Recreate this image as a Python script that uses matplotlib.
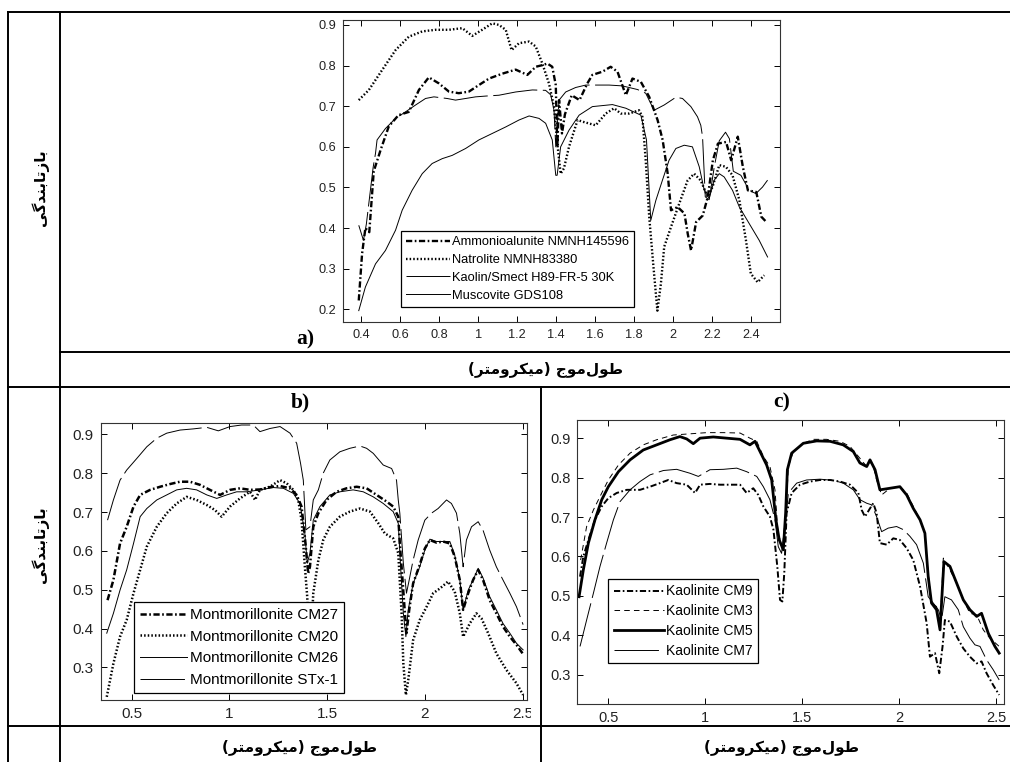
import matplotlib
matplotlib.use("Agg")
import numpy as np
import matplotlib.pyplot as plt
from matplotlib.transforms import Bbox, TransformedBbox

plt.rcParams['lines.scale_dashes'] = False
plt.rcParams['font.family'] = ['Liberation Sans', 'DejaVu Sans']

# ---------------- data ----------------
# panel a
amm_x = [0.386, 0.403, 0.42, 0.44, 0.463, 0.498, 0.54, 0.59, 0.643, 0.695, 0.746, 0.798, 0.849, 0.9, 0.952,
         1.003, 1.055, 1.123, 1.192, 1.252, 1.295, 1.329, 1.355, 1.38, 1.398, 1.406, 1.415, 1.43, 1.445, 1.48,
         1.52, 1.56, 1.586, 1.638, 1.68, 1.715, 1.758, 1.792, 1.835, 1.878, 1.921, 1.947, 1.973, 1.99, 2.024,
         2.059, 2.076, 2.093, 2.119, 2.153, 2.179, 2.205, 2.231, 2.273, 2.299, 2.333, 2.359, 2.385, 2.428,
         2.454, 2.48]
amm_y = [0.222, 0.337, 0.40, 0.39, 0.54, 0.592, 0.65, 0.678, 0.686, 0.74, 0.771, 0.756, 0.736, 0.732, 0.736,
         0.752, 0.768, 0.78, 0.79, 0.777, 0.797, 0.801, 0.805, 0.797, 0.752, 0.60, 0.715, 0.633, 0.68, 0.727,
         0.715, 0.756, 0.777, 0.785, 0.797, 0.785, 0.727, 0.768, 0.76, 0.723, 0.666, 0.617, 0.534, 0.444, 0.452,
         0.436, 0.386, 0.345, 0.415, 0.431, 0.477, 0.567, 0.608, 0.612, 0.567, 0.625, 0.551, 0.493, 0.489,
         0.428, 0.415]

nat_x = [0.386, 0.438, 0.506, 0.575, 0.643, 0.712, 0.78, 0.849, 0.918, 0.969, 1.02, 1.072, 1.106, 1.141,
         1.171, 1.209, 1.261, 1.295, 1.329, 1.363, 1.389, 1.406, 1.423, 1.44, 1.466, 1.51, 1.535, 1.603, 1.655,
         1.698, 1.732, 1.775, 1.826, 1.843, 1.86, 1.878, 1.9, 1.92, 1.938, 1.955, 1.99, 2.032, 2.075, 2.109,
         2.143, 2.178, 2.203, 2.238, 2.272, 2.306, 2.341, 2.375, 2.4, 2.435, 2.469]
nat_y = [0.715, 0.74, 0.789, 0.838, 0.871, 0.884, 0.888, 0.888, 0.892, 0.873, 0.888, 0.904, 0.9, 0.888,
         0.838, 0.855, 0.859, 0.847, 0.805, 0.756, 0.699, 0.608, 0.534, 0.547, 0.6, 0.666, 0.662, 0.653, 0.682,
         0.695, 0.682, 0.682, 0.69, 0.674, 0.567, 0.428, 0.304, 0.197, 0.263, 0.354, 0.403, 0.46, 0.517, 0.534,
         0.517, 0.477, 0.501, 0.555, 0.551, 0.53, 0.469, 0.37, 0.288, 0.267, 0.284]

kao_x = [0.386, 0.41, 0.425, 0.44, 0.46, 0.472, 0.48, 0.523, 0.575, 0.626, 0.678, 0.729, 0.772, 0.84, 0.883,
         0.935, 0.986, 1.04, 1.106, 1.192, 1.278, 1.346, 1.372, 1.389, 1.398, 1.415, 1.449, 1.5, 1.552, 1.672,
         1.74, 1.818, 1.86, 1.903, 1.955, 2.015, 2.049, 2.092, 2.126, 2.143, 2.152, 2.166, 2.186, 2.212, 2.238,
         2.27, 2.29, 2.31, 2.349, 2.392, 2.426, 2.46, 2.486]
kao_y = [0.407, 0.37, 0.41, 0.47, 0.55, 0.584, 0.617, 0.645, 0.67, 0.686, 0.703, 0.719, 0.723, 0.719, 0.715,
         0.719, 0.723, 0.725, 0.727, 0.735, 0.74, 0.739, 0.728, 0.69, 0.60, 0.715, 0.735, 0.746, 0.752, 0.752,
         0.75, 0.741, 0.732, 0.69, 0.703, 0.722, 0.719, 0.699, 0.674, 0.653, 0.625, 0.477, 0.47, 0.55, 0.615,
         0.636, 0.62, 0.54, 0.53, 0.493, 0.485, 0.501, 0.518]

mus_x = [0.386, 0.42, 0.472, 0.523, 0.575, 0.609, 0.66, 0.712, 0.763, 0.815, 0.866, 0.935, 1.003, 1.072,
         1.141, 1.209, 1.261, 1.312, 1.346, 1.38, 1.398, 1.405, 1.423, 1.466, 1.518, 1.586, 1.689, 1.758,
         1.835, 1.864, 1.886, 1.912, 1.946, 1.98, 2.015, 2.058, 2.1, 2.135, 2.161, 2.186, 2.212, 2.238, 2.263,
         2.306, 2.341, 2.392, 2.443, 2.486]
mus_y = [0.197, 0.255, 0.312, 0.345, 0.395, 0.444, 0.493, 0.534, 0.559, 0.571, 0.579, 0.596, 0.617, 0.633,
         0.649, 0.666, 0.676, 0.67, 0.658, 0.617, 0.53, 0.53, 0.6, 0.641, 0.678, 0.699, 0.704, 0.695, 0.678,
         0.617, 0.419, 0.468, 0.518, 0.567, 0.596, 0.604, 0.6, 0.551, 0.493, 0.473, 0.518, 0.534, 0.526, 0.493,
         0.452, 0.411, 0.37, 0.329]

# panel b
cm27_x = [0.376, 0.406, 0.44, 0.474, 0.509, 0.543, 0.594, 0.645, 0.696, 0.747, 0.798, 0.849, 0.9, 0.952,
          1.003, 1.054, 1.105, 1.156, 1.207, 1.259, 1.31, 1.344, 1.369, 1.386, 1.403, 1.412, 1.429, 1.455,
          1.497, 1.548, 1.599, 1.651, 1.702, 1.753, 1.804, 1.838, 1.864, 1.872, 1.881, 1.898, 1.906, 1.92, 1.94,
          1.974, 2.0, 2.026, 2.06, 2.094, 2.128, 2.153, 2.179, 2.196, 2.222, 2.247, 2.273, 2.298, 2.332, 2.366,
          2.4, 2.435, 2.469, 2.503]
cm27_y = [0.473, 0.525, 0.619, 0.662, 0.714, 0.744, 0.757, 0.765, 0.772, 0.778, 0.778, 0.77, 0.757, 0.744,
          0.757, 0.761, 0.757, 0.758, 0.764, 0.767, 0.761, 0.744, 0.714, 0.636, 0.542, 0.559, 0.662, 0.697,
          0.731, 0.752, 0.761, 0.765, 0.761, 0.744, 0.727, 0.714, 0.688, 0.619, 0.559, 0.439, 0.388, 0.448, 0.516,
          0.564, 0.606, 0.628, 0.621, 0.624, 0.619, 0.585, 0.525, 0.448, 0.491, 0.525, 0.551, 0.525, 0.473, 0.439,
          0.405, 0.379, 0.358, 0.334]

cm20_x = [0.372, 0.406, 0.44, 0.474, 0.509, 0.543, 0.577, 0.628, 0.679, 0.73, 0.781, 0.832, 0.884, 0.926,
          0.96, 1.003, 1.054, 1.105, 1.131, 1.156, 1.207, 1.259, 1.293, 1.327, 1.352, 1.369, 1.386, 1.398, 1.41,
          1.42, 1.429, 1.455, 1.48, 1.514, 1.565, 1.616, 1.668, 1.719, 1.762, 1.795, 1.838, 1.864, 1.881, 1.89,
          1.903, 1.915, 1.94, 1.974, 2.009, 2.043, 2.077, 2.119, 2.153, 2.179, 2.196, 2.23, 2.264, 2.29, 2.324,
          2.366, 2.418, 2.469, 2.503]
cm20_y = [0.224, 0.31, 0.379, 0.422, 0.491, 0.551, 0.611, 0.662, 0.697, 0.722, 0.739, 0.731, 0.718, 0.705,
          0.688, 0.714, 0.735, 0.752, 0.731, 0.757, 0.765, 0.782, 0.774, 0.757, 0.731, 0.679, 0.559, 0.482, 0.33,
          0.40, 0.491, 0.576, 0.628, 0.662, 0.688, 0.701, 0.709, 0.701, 0.671, 0.645, 0.632, 0.594, 0.439, 0.31,
          0.229, 0.267, 0.37, 0.422, 0.456, 0.491, 0.503, 0.521, 0.495, 0.439, 0.379, 0.413, 0.439, 0.426, 0.388,
          0.336, 0.293, 0.259, 0.229]

cm26_x = [0.372, 0.406, 0.44, 0.474, 0.509, 0.543, 0.577, 0.628, 0.679, 0.73, 0.781, 0.832, 0.884, 0.935,
          0.986, 1.037, 1.088, 1.156, 1.224, 1.276, 1.327, 1.361, 1.386, 1.398, 1.412, 1.429, 1.463, 1.514,
          1.565, 1.633, 1.685, 1.736, 1.787, 1.838, 1.864, 1.876, 1.89, 1.903, 1.915, 1.94, 1.974, 2.0, 2.026,
          2.06, 2.094, 2.128, 2.153, 2.179, 2.196, 2.222, 2.247, 2.273, 2.298, 2.332, 2.366, 2.4, 2.435, 2.469,
          2.503]
cm26_y = [0.388, 0.439, 0.499, 0.551, 0.619, 0.688, 0.709, 0.731, 0.744, 0.757, 0.761, 0.757, 0.744, 0.735,
          0.744, 0.752, 0.752, 0.757, 0.763, 0.761, 0.748, 0.722, 0.644, 0.568, 0.594, 0.679, 0.714, 0.744,
          0.752, 0.757, 0.752, 0.739, 0.722, 0.701, 0.671, 0.559, 0.439, 0.379, 0.448, 0.516, 0.559, 0.602, 0.63,
          0.624, 0.624, 0.624, 0.589, 0.525, 0.448, 0.499, 0.525, 0.555, 0.53, 0.482, 0.448, 0.413, 0.388, 0.362,
          0.345]

stx_x = [0.376, 0.406, 0.44, 0.474, 0.526, 0.577, 0.628, 0.679, 0.747, 0.815, 0.884, 0.943, 1.003, 1.062,
         1.122, 1.156, 1.207, 1.259, 1.31, 1.344, 1.364, 1.378, 1.391, 1.412, 1.429, 1.455, 1.48, 1.514, 1.565,
         1.616, 1.668, 1.702, 1.736, 1.787, 1.83, 1.855, 1.864, 1.872, 1.89, 1.906, 1.92, 1.94, 1.966, 2.0,
         2.034, 2.068, 2.111, 2.136, 2.162, 2.179, 2.196, 2.213, 2.239, 2.273, 2.298, 2.332, 2.366, 2.4, 2.435,
         2.469, 2.503]
stx_y = [0.679, 0.731, 0.782, 0.808, 0.838, 0.868, 0.89, 0.903, 0.911, 0.914, 0.918, 0.909, 0.92, 0.924,
         0.924, 0.907, 0.915, 0.92, 0.903, 0.877, 0.825, 0.782, 0.654, 0.662, 0.731, 0.757, 0.8, 0.834, 0.855,
         0.864, 0.87, 0.864, 0.851, 0.821, 0.812, 0.782, 0.731, 0.697, 0.568, 0.491, 0.525, 0.576, 0.628, 0.679,
         0.697, 0.709, 0.731, 0.722, 0.697, 0.645, 0.559, 0.628, 0.662, 0.675, 0.653, 0.602, 0.559, 0.525, 0.491,
         0.456, 0.41]

# panel c
cm9_x = [0.354, 0.371, 0.397, 0.431, 0.466, 0.5, 0.543, 0.595, 0.663, 0.715, 0.766, 0.809, 0.852, 0.904,
         0.947, 0.973, 1.024, 1.076, 1.127, 1.179, 1.213, 1.247, 1.273, 1.299, 1.333, 1.351, 1.371, 1.385,
         1.397, 1.407, 1.419, 1.445, 1.488, 1.54, 1.591, 1.643, 1.694, 1.746, 1.789, 1.806, 1.823, 1.849,
         1.866, 1.883, 1.9, 1.935, 1.969, 2.003, 2.038, 2.072, 2.107, 2.141, 2.158, 2.184, 2.206, 2.223, 2.235,
         2.261, 2.296, 2.33, 2.364, 2.399, 2.424, 2.45, 2.484, 2.515]
cm9_y = [0.549, 0.6, 0.642, 0.693, 0.727, 0.748, 0.761, 0.769, 0.769, 0.777, 0.786, 0.794, 0.786, 0.782,
         0.761, 0.782, 0.784, 0.782, 0.782, 0.782, 0.761, 0.773, 0.756, 0.727, 0.701, 0.668, 0.575, 0.49,
         0.486, 0.558, 0.71, 0.761, 0.782, 0.79, 0.794, 0.794, 0.79, 0.782, 0.761, 0.718, 0.701, 0.722,
         0.735, 0.71, 0.634, 0.63, 0.646, 0.642, 0.621, 0.591, 0.524, 0.431, 0.346, 0.355, 0.304, 0.372, 0.439,
         0.435, 0.397, 0.367, 0.346, 0.329, 0.334, 0.304, 0.274, 0.249]

cm3_x = [0.357, 0.388, 0.423, 0.457, 0.5, 0.552, 0.612, 0.68, 0.749, 0.835, 0.921, 1.007, 1.093, 1.179,
         1.23, 1.265, 1.299, 1.333, 1.359, 1.376, 1.399, 1.416, 1.428, 1.454, 1.505, 1.557, 1.625, 1.694,
         1.746, 1.797, 1.832, 1.849, 1.866, 1.883, 1.909, 1.952, 2.003, 2.038, 2.072, 2.107, 2.132, 2.149,
         2.166, 2.192, 2.21, 2.227, 2.261, 2.296, 2.33, 2.364, 2.399, 2.433, 2.467, 2.515]
cm3_y = [0.591, 0.676, 0.718, 0.752, 0.794, 0.832, 0.862, 0.883, 0.896, 0.908, 0.911, 0.914, 0.914, 0.913,
         0.9, 0.892, 0.854, 0.828, 0.769, 0.651, 0.634, 0.71, 0.828, 0.866, 0.887, 0.897, 0.897, 0.892,
         0.879, 0.849, 0.828, 0.841, 0.828, 0.794, 0.756, 0.773, 0.777, 0.761, 0.727, 0.693, 0.659, 0.558,
         0.482, 0.473, 0.422, 0.596, 0.566, 0.532, 0.49, 0.456, 0.452, 0.414, 0.393, 0.372]

cm5_x = [0.349, 0.371, 0.397, 0.431, 0.466, 0.5, 0.552, 0.612, 0.68, 0.749, 0.818, 0.869, 0.904, 0.938,
         0.973, 1.041, 1.11, 1.179, 1.23, 1.256, 1.282, 1.316, 1.342, 1.364, 1.381, 1.402, 1.414, 1.423,
         1.445, 1.505, 1.574, 1.643, 1.711, 1.763, 1.797, 1.832, 1.849, 1.875, 1.9, 1.952, 2.003, 2.038, 2.072,
         2.107, 2.132, 2.149, 2.166, 2.192, 2.21, 2.23, 2.261, 2.296, 2.33, 2.364, 2.399, 2.424, 2.459, 2.493,
         2.515]
cm5_y = [0.498, 0.566, 0.634, 0.693, 0.744, 0.777, 0.815, 0.845, 0.87, 0.883, 0.896, 0.904, 0.898, 0.886,
         0.9, 0.903, 0.9, 0.897, 0.883, 0.892, 0.866, 0.832, 0.794, 0.693, 0.642, 0.617, 0.71, 0.82,
         0.862, 0.887, 0.893, 0.892, 0.883, 0.866, 0.837, 0.828, 0.845, 0.82, 0.769, 0.773, 0.777, 0.756, 0.722,
         0.693, 0.659, 0.549, 0.482, 0.465, 0.414, 0.587, 0.575, 0.532, 0.49, 0.465, 0.448, 0.456, 0.405, 0.372,
         0.355]

cm7_x = [0.354, 0.388, 0.423, 0.457, 0.491, 0.526, 0.56, 0.612, 0.663, 0.715, 0.784, 0.852, 0.921, 0.964,
         1.024, 1.093, 1.162, 1.213, 1.265, 1.299, 1.333, 1.359, 1.376, 1.393, 1.411, 1.428, 1.471, 1.522,
         1.591, 1.66, 1.711, 1.763, 1.797, 1.832, 1.857, 1.883, 1.909, 1.943, 1.986, 2.021, 2.055, 2.089,
         2.124, 2.149, 2.175, 2.201, 2.218, 2.235, 2.269, 2.304, 2.33, 2.364, 2.39, 2.416, 2.45, 2.484, 2.515]
cm7_y = [0.372, 0.439, 0.507, 0.575, 0.634, 0.693, 0.739, 0.769, 0.79, 0.807, 0.818, 0.821, 0.811, 0.803,
         0.82, 0.821, 0.824, 0.815, 0.803, 0.777, 0.744, 0.693, 0.625, 0.608, 0.676, 0.761, 0.786, 0.794,
         0.796, 0.793, 0.786, 0.769, 0.744, 0.735, 0.731, 0.701, 0.663, 0.672, 0.676, 0.668, 0.651, 0.63,
         0.583, 0.498, 0.482, 0.465, 0.439, 0.498, 0.49, 0.465, 0.422, 0.393, 0.376, 0.372, 0.338, 0.313, 0.287]

a_labels = ['Ammonioalunite NMNH145596', 'Natrolite NMNH83380', 'Kaolin/Smect H89-FR-5 30K', 'Muscovite GDS108']
b_labels = ['Montmorillonite CM27', 'Montmorillonite CM20', 'Montmorillonite CM26', 'Montmorillonite STx-1']
c_labels = ['Kaolinite CM9', 'Kaolinite CM3', 'Kaolinite CM5', 'Kaolinite CM7']

ylabel_fa = 'بازتابندگی'
xlabel_fa = 'طول\u200cموج (میکرومتر)'

# ---------------- persian shaping (matplotlib does no joining / bidi) ----------------
FORMS = {  # isolated, final, initial, medial
    'ا': (0xFE8D, 0xFE8E, 0xFE8D, 0xFE8E), 'د': (0xFEA9, 0xFEAA, 0xFEA9, 0xFEAA),
    'ر': (0xFEAD, 0xFEAE, 0xFEAD, 0xFEAE), 'ز': (0xFEAF, 0xFEB0, 0xFEAF, 0xFEB0),
    'و': (0xFEED, 0xFEEE, 0xFEED, 0xFEEE),
    'ب': (0xFE8F, 0xFE90, 0xFE91, 0xFE92), 'ت': (0xFE95, 0xFE96, 0xFE97, 0xFE98),
    'ج': (0xFE9D, 0xFE9E, 0xFE9F, 0xFEA0), 'ط': (0xFEC1, 0xFEC2, 0xFEC3, 0xFEC4),
    'ل': (0xFEDD, 0xFEDE, 0xFEDF, 0xFEE0), 'م': (0xFEE1, 0xFEE2, 0xFEE3, 0xFEE4),
    'ن': (0xFEE5, 0xFEE6, 0xFEE7, 0xFEE8), 'ک': (0xFB8E, 0xFB8F, 0xFB90, 0xFB91),
    'گ': (0xFB92, 0xFB93, 0xFB94, 0xFB95), 'ی': (0xFBFC, 0xFBFD, 0xFBFE, 0xFBFF),
}
RIGHT_ONLY = set('ادرزو')


def shape_fa(s):
    out = []
    for i, ch in enumerate(s):
        if ch not in FORMS:
            out.append(ch)
            continue
        prev = s[i - 1] if i > 0 else ''
        nxt = s[i + 1] if i + 1 < len(s) else ''
        jp = prev in FORMS and prev not in RIGHT_ONLY
        jn = ch not in RIGHT_ONLY and nxt in FORMS
        f = FORMS[ch]
        out.append(chr(f[3] if jp and jn else f[1] if jp else f[2] if jn else f[0]))
    vis = ''.join(reversed(out)).replace('\u200c', '')
    return vis.translate(str.maketrans('()', ')('))


FA = ['DejaVu Sans']

# ---------------- figure ----------------
fig = plt.figure(figsize=(10.1, 7.62), dpi=100)

# table grid drawn in pixel coordinates
grid = fig.add_axes([0, 0, 1, 1])
grid.set_xlim(0, 1010)
grid.set_ylim(762, 0)
grid.axis('off')
glw = 1.4
for (x0, x1, y0, y1) in [(7.5, 1010, 12, 12), (7.5, 7.5, 12, 762), (60, 60, 12, 762),
                         (60, 1010, 351.5, 351.5), (7.5, 1010, 386.5, 386.5),
                         (7.5, 1010, 725.5, 725.5), (540.5, 540.5, 386.5, 762)]:
    grid.plot([x0, x1], [y0, y1], color='black', lw=glw, solid_capstyle='projecting')

grid.text(40, 188, shape_fa(ylabel_fa), rotation=90, ha='center', va='center',
          fontsize=11, fontweight='bold', family=FA)
grid.text(40, 545, shape_fa(ylabel_fa), rotation=90, ha='center', va='center',
          fontsize=11, fontweight='bold', family=FA)
grid.text(545, 369, shape_fa(xlabel_fa), ha='center', va='center', fontsize=11, fontweight='bold', family=FA)
grid.text(300, 747, shape_fa(xlabel_fa), ha='center', va='center', fontsize=11, fontweight='bold', family=FA)
grid.text(782, 747, shape_fa(xlabel_fa), ha='center', va='center', fontsize=11, fontweight='bold', family=FA)
for lab, (px, py) in zip(['a)', 'b)', 'c)'], [(305, 339), (300, 402), (782, 402)]):
    grid.text(px, py, lab, ha='center', va='center', fontsize=15.5, fontweight='bold',
              family='Liberation Serif')

DASHDOT = (0, (4.5, 1.8, 1.2, 1.8))
DOT = (0, (1.1, 1.5))
LONGDASH = (0, (32, 4))
DASH = (0, (4, 3))


def style_axes(ax, xlim, ylim, xticks, yticks, fs):
    ax.set_xlim(*xlim)
    ax.set_ylim(*ylim)
    ax.set_xticks(xticks)
    ax.set_yticks(yticks)
    ax.set_xticklabels([('%g' % t) for t in xticks])
    ax.set_yticklabels([('%g' % t) for t in yticks])
    ax.tick_params(direction='in', top=True, right=True, length=4, width=0.7,
                   labelsize=fs, labelcolor='#222222', pad=5)
    for sp in ax.spines.values():
        sp.set_linewidth(0.8)
        sp.set_color('#333333')


def add_legend(ax, anchor, fs, hl, spacing):
    leg = ax.legend(loc='lower left', bbox_to_anchor=anchor, borderaxespad=0, fontsize=fs,
                    handlelength=hl, handletextpad=0.15, labelspacing=spacing, borderpad=0.4,
                    fancybox=False, framealpha=1, edgecolor='black')
    leg.get_frame().set_linewidth(0.9)


# panel a
ax_a = fig.add_axes([0.3396, 0.5774, 0.4327, 0.3963])
ax_a.plot(amm_x, amm_y, color='black', lw=1.7, ls=DASHDOT, label=a_labels[0])
ax_a.plot(nat_x, nat_y, color='black', lw=1.7, ls=DOT, label=a_labels[1])
ax_a.plot(kao_x, kao_y, color='black', lw=0.7, ls=LONGDASH, label=a_labels[2])
ax_a.plot(mus_x, mus_y, color='black', lw=0.7, label=a_labels[3])
style_axes(ax_a, (0.305, 2.55), (0.169, 0.912), [0.4, 0.6, 0.8, 1, 1.2, 1.4, 1.6, 1.8, 2, 2.2, 2.4],
           [0.2, 0.3, 0.4, 0.5, 0.6, 0.7, 0.8, 0.9], 9.2)
add_legend(ax_a, (0.133, 0.05), 9.3, 3.4, 0.45)

# panel b
ax_b = fig.add_axes([0.0997, 0.0814, 0.4221, 0.3639])
ax_b.plot(cm27_x, cm27_y, color='black', lw=1.8, ls=DASHDOT, label=b_labels[0])
ax_b.plot(cm20_x, cm20_y, color='black', lw=1.8, ls=DOT, label=b_labels[1])
ax_b.plot(cm26_x, cm26_y, color='black', lw=0.7, label=b_labels[2])
ax_b.plot(stx_x, stx_y, color='black', lw=0.7, ls=LONGDASH, label=b_labels[3])
style_axes(ax_b, (0.341, 2.523), (0.216, 0.93), [0.5, 1, 1.5, 2, 2.5],
           [0.3, 0.4, 0.5, 0.6, 0.7, 0.8, 0.9], 11)
add_legend(ax_b, (0.078, 0.025), 11, 3.1, 0.5)
clip = Bbox.from_extents(0, 0, 531 / 1010, 1)
for lab in ax_b.get_xticklabels():
    lab.set_clip_on(True)
    lab.set_clip_box(TransformedBbox(clip, fig.transFigure))

# panel c
ax_c = fig.add_axes([0.5716, 0.0761, 0.4225, 0.3727])
ax_c.plot(cm9_x, cm9_y, color='black', lw=1.4, ls=DASHDOT, label=c_labels[0])
ax_c.plot(cm3_x, cm3_y, color='black', lw=0.7, ls=DASH, label=c_labels[1])
ax_c.plot(cm5_x, cm5_y, color='black', lw=2.0, label=c_labels[2])
ax_c.plot(cm7_x, cm7_y, color='black', lw=0.7, ls=LONGDASH, label=c_labels[3])
style_axes(ax_c, (0.34, 2.54), (0.226, 0.946), [0.5, 1, 1.5, 2, 2.5],
           [0.3, 0.4, 0.5, 0.6, 0.7, 0.8, 0.9], 10.5)
add_legend(ax_c, (0.072, 0.144), 10, 3.6, 0.41)

fig.savefig('out.png', dpi=100)
